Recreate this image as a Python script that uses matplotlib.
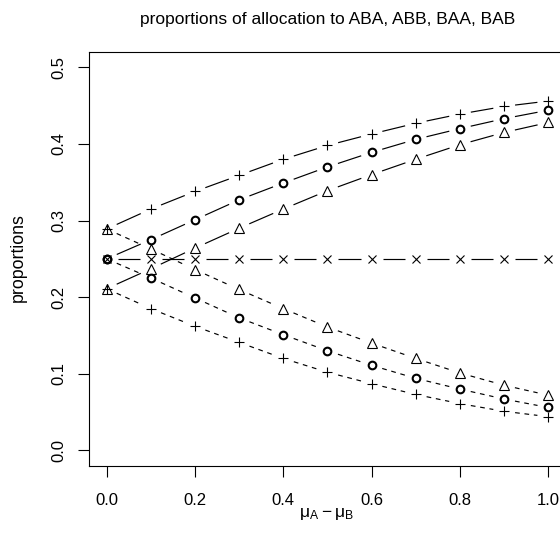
import numpy as np
import matplotlib
matplotlib.use('Agg')
import matplotlib.pyplot as plt

plt.rcParams['font.family'] = ['Liberation Sans', 'DejaVu Sans']
plt.rcParams['mathtext.default'] = 'regular'

mu_diff = [0.0, 0.1, 0.2, 0.3, 0.4, 0.5, 0.6, 0.7, 0.8, 0.9, 1.0]

# upper curves (solid)
up_plus = [0.289, 0.315, 0.338, 0.359, 0.380, 0.398, 0.413, 0.427, 0.439, 0.449, 0.456]
up_circle = [0.250, 0.275, 0.301, 0.327, 0.349, 0.370, 0.389, 0.406, 0.420, 0.433, 0.444]
up_tri = [0.211, 0.237, 0.264, 0.290, 0.315, 0.339, 0.360, 0.380, 0.399, 0.415, 0.428]
# flat curve
flat_cross = [0.25] * 11
# lower curves (dashed)
lo_tri = [0.289, 0.263, 0.236, 0.210, 0.185, 0.161, 0.140, 0.120, 0.101, 0.085, 0.072]
lo_circle = [0.250, 0.225, 0.199, 0.173, 0.151, 0.130, 0.111, 0.094, 0.080, 0.067, 0.056]
lo_plus = [0.211, 0.185, 0.162, 0.141, 0.120, 0.102, 0.087, 0.073, 0.061, 0.051, 0.044]

fig = plt.figure(figsize=(5.6, 5.49), dpi=100)
ax = fig.add_axes([0.1589, 0.1517, 0.8518, 0.7536])
ax.set_xlim(-0.04, 1.04)
ax.set_ylim(-0.02, 0.52)


def draw_b(x, y, marker, ls, ms, mew=0.8, gap=11):
    # R style type="b": segments stop short of the points
    pts = ax.transData.transform(np.column_stack([x, y]))
    inv = ax.transData.inverted()
    for p, q in zip(pts[:-1], pts[1:]):
        d = q - p
        L = np.hypot(d[0], d[1])
        if L <= 2 * gap:
            continue
        u = d / L
        a = inv.transform(p + u * gap)
        b = inv.transform(q - u * gap)
        ax.plot([a[0], b[0]], [a[1], b[1]], color='black', lw=0.85,
                linestyle=ls, solid_capstyle='butt', dash_capstyle='butt')
    ax.plot(x, y, linestyle='none', marker=marker, ms=ms, mew=mew,
            mfc='none', mec='black')


solid = '-'
dashed = (0, (4, 4))
draw_b(mu_diff, up_plus, '+', solid, 7.5)
draw_b(mu_diff, up_circle, 'o', solid, 5.5, mew=1.5)
draw_b(mu_diff, up_tri, '^', solid, 7.2)
draw_b(mu_diff, flat_cross, 'x', solid, 5.8)
draw_b(mu_diff, lo_tri, '^', dashed, 7.2)
draw_b(mu_diff, lo_circle, 'o', dashed, 5.5, mew=1.5)
draw_b(mu_diff, lo_plus, '+', dashed, 7.5)

ax.set_xticks([0.0, 0.2, 0.4, 0.6, 0.8, 1.0])
ax.set_yticks([0.0, 0.1, 0.2, 0.3, 0.4, 0.5])
ax.tick_params(axis='x', length=8, width=0.8, pad=11.5, labelsize=12)
ax.tick_params(axis='y', length=8, width=0.8, pad=8, labelsize=12)
for lab in ax.get_yticklabels():
    lab.set_rotation(90)
    lab.set_va('center')
for s in ax.spines.values():
    s.set_linewidth(0.8)

ax.set_title('proportions of allocation to ABA, ABB, BAA, BAB', fontsize=12.5, pad=20.5)
fig.text(327 / 560, 1 - 514 / 549, r'$\mu_A - \mu_B$', ha='center', va='center', fontsize=12.5)
fig.text(18.5 / 560, 1 - 258 / 549, 'proportions', rotation=90, ha='center', va='center', fontsize=12.8)

fig.savefig('out.png', dpi=100)
